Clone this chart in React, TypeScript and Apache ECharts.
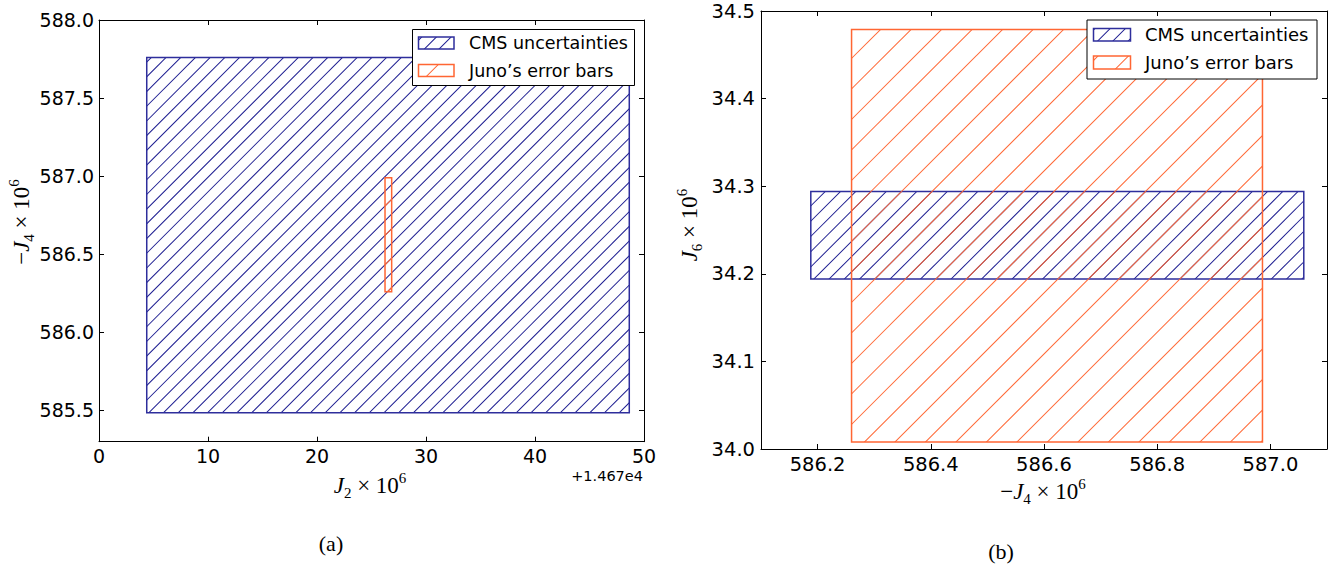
import React, { useEffect, useRef } from 'react';
import * as echarts from 'echarts';

const seriesNames = ['CMS uncertainties', 'Juno’s error bars'];
// each box: [xMin, xMax, yMin, yMax]
const panelACms = [4.38, 48.65, 585.485, 587.76];
const panelAJuno = [26.24, 26.85, 586.26, 586.99];
const panelBCms = [586.188, 587.059, 34.194, 34.294];
const panelBJuno = [586.26, 586.986, 34.008, 34.479];

const panelAXRange = [0, 50];
const panelAYRange = [585.3, 588.0];
const panelBXRange = [586.1, 587.1];
const panelBYRange = [34.0, 34.5];
const panelAXTicks = [0, 10, 20, 30, 40, 50];
const panelAYTicks = [585.5, 586.0, 586.5, 587.0, 587.5, 588.0];
const panelBXTicks = [586.2, 586.4, 586.6, 586.8, 587.0];
const panelBYTicks = [34.0, 34.1, 34.2, 34.3, 34.4, 34.5];
const panelAOffsetText = '+1.467e4';
const captions = ['(a)', '(b)'];

const BLUE_EDGE = '#2e2e9c';
const BLUE_HATCH = '#1c1c90';
const ORANGE = '#ff6633';
const SERIF = 'Liberation Serif';
const SANS = 'DejaVu Sans';
const HALF = 0.7;

function clipDiag(L: number, T: number, R: number, B: number, c: number) {
  const xa = Math.max(L, c - B);
  const xb = Math.min(R, c - T);
  return xb > xa ? [xa, c - xa, xb, c - xb] : null;
}

// thin filled bands along x + y = c, clipped to the box
function hatchBands(L: number, T: number, R: number, B: number, s: number, phase: number) {
  const bands: number[][][] = [];
  const k = Math.ceil((L + T - phase) / s);
  for (let i = k; i * s + phase <= R + B; i++) {
    const c = i * s + phase;
    const a = clipDiag(L, T, R, B, c - HALF);
    const b = clipDiag(L, T, R, B, c + HALF);
    if (!a || !b) continue;
    bands.push([[a[0], a[1]], [a[2], a[3]], [b[2], b[3]], [b[0], b[1]]]);
  }
  return bands;
}

function hatchedRectElements(L: number, T: number, R: number, B: number, edge: string, hatch: string, s: number, phase: number, z?: number) {
  const els: any[] = hatchBands(L, T, R, B, s, phase).map((pts) => ({
    type: 'polygon',
    z,
    shape: { points: pts },
    style: { fill: hatch, stroke: null, lineWidth: 0 },
  }));
  els.push({
    type: 'rect',
    z,
    shape: { x: L, y: T, width: R - L, height: B - T },
    style: { fill: 'none', stroke: edge, lineWidth: 1.5 },
  });
  return els;
}

function makeAxis(gridIndex: number, position: string, range: number[], ticks: number[], decimals: number, showLabel: boolean, fontSize: number, margin: number) {
  return {
    type: 'value',
    gridIndex,
    position,
    min: range[0],
    max: range[1],
    axisLine: { show: true, onZero: false, lineStyle: { color: '#000', width: 1 } },
    axisTick: { show: true, inside: true, length: 5, customValues: ticks, lineStyle: { color: '#000', width: 1 } },
    axisLabel: {
      show: showLabel,
      customValues: ticks,
      formatter: (v: number) => Number(v).toFixed(decimals),
      fontFamily: SANS,
      fontSize,
      color: '#000',
      margin,
    },
    splitLine: { show: false },
  };
}

function rectSeries(name: string, box: number[], xi: number, yi: number, edge: string, hatch: string, s: number, phase: number) {
  return {
    type: 'custom',
    name,
    xAxisIndex: xi,
    yAxisIndex: yi,
    clip: false,
    encode: { x: [0, 1], y: [2, 3] },
    data: [box],
    renderItem: (params: any, api: any) => {
      const p0 = api.coord([api.value(0), api.value(3)]);
      const p1 = api.coord([api.value(1), api.value(2)]);
      return {
        type: 'group',
        children: hatchedRectElements(p0[0], p0[1], p1[0], p1[1], edge, hatch, s, phase),
      };
    },
  };
}

function legendElements(box: number[], patchX: number, patchW: number, rows: number[][], textX: number, fontSize: number, hatchCfg: number[][]) {
  const els: any[] = [
    {
      type: 'rect',
      z: 100,
      shape: { x: box[0], y: box[1], width: box[2], height: box[3] },
      style: { fill: '#fff', stroke: '#000', lineWidth: 1 },
    },
  ];
  const edges = [BLUE_EDGE, ORANGE];
  const hatches = [BLUE_HATCH, ORANGE];
  rows.forEach((r, i) => {
    els.push(...hatchedRectElements(patchX, r[0], patchX + patchW, r[1], edges[i], hatches[i], hatchCfg[i][0], hatchCfg[i][1], 101));
    els.push({
      type: 'text',
      z: 101,
      x: textX,
      y: (r[0] + r[1]) / 2,
      style: { text: seriesNames[i], fontFamily: SANS, fontSize, fill: '#000', align: 'left', verticalAlign: 'middle' },
    });
  });
  return els;
}

const richMath = {
  i: { fontFamily: SERIF, fontStyle: 'italic', fontSize: 23, lineHeight: 30, fill: '#000' },
  n: { fontFamily: SERIF, fontSize: 23, lineHeight: 30, fill: '#000' },
  s: { fontFamily: SERIF, fontSize: 15, lineHeight: 15, verticalAlign: 'bottom', fill: '#000' },
  p: { fontFamily: SERIF, fontSize: 15, lineHeight: 15, verticalAlign: 'top', fill: '#000' },
};

function mathText(x: number, y: number, text: string, rotation = 0) {
  return {
    type: 'text',
    x,
    y,
    rotation,
    style: { text, rich: richMath, fill: '#000', align: 'center', verticalAlign: 'middle' },
  };
}

export default function App() {
  const ref = useRef<HTMLDivElement>(null);
  useEffect(() => {
    if (!ref.current) return;
    const chart = echarts.init(ref.current, null, { renderer: 'svg' });
    const hatchA = [[14.7, 3], [29.4, 3]];
    const hatchB = [[15.25, 10.2], [30.5, 25.45]];
    const option: any = {
      animation: false,
      backgroundColor: '#fff',
      grid: [
        { left: 99, top: 20, width: 545, height: 421.7, outerBoundsMode: 'none' },
        { left: 761, top: 11, width: 566, height: 438, outerBoundsMode: 'none' },
      ],
      xAxis: [
        makeAxis(0, 'bottom', panelAXRange, panelAXTicks, 0, true, 19, 5),
        makeAxis(0, 'top', panelAXRange, panelAXTicks, 0, false, 19, 5),
        makeAxis(1, 'bottom', panelBXRange, panelBXTicks, 1, true, 19.5, 5),
        makeAxis(1, 'top', panelBXRange, panelBXTicks, 1, false, 19.5, 5),
      ],
      yAxis: [
        makeAxis(0, 'left', panelAYRange, panelAYTicks, 1, true, 19, 5),
        makeAxis(0, 'right', panelAYRange, panelAYTicks, 1, false, 19, 5),
        makeAxis(1, 'left', panelBYRange, panelBYTicks, 1, true, 19.5, 6),
        makeAxis(1, 'right', panelBYRange, panelBYTicks, 1, false, 19.5, 6),
      ],
      series: [
        rectSeries(seriesNames[0], panelACms, 0, 0, BLUE_EDGE, BLUE_HATCH, hatchA[0][0], hatchA[0][1]),
        rectSeries(seriesNames[1], panelAJuno, 0, 0, ORANGE, ORANGE, hatchA[1][0], hatchA[1][1]),
        rectSeries(seriesNames[0], panelBCms, 2, 2, BLUE_EDGE, BLUE_HATCH, hatchB[0][0], hatchB[0][1]),
        rectSeries(seriesNames[1], panelBJuno, 2, 2, ORANGE, ORANGE, hatchB[1][0], hatchB[1][1]),
      ],
      graphic: [
        ...legendElements([412.5, 29.5, 222, 56], 418.5, 35.5, [[37, 49], [64.5, 76.5]], 469, 17.5, hatchA),
        ...legendElements([1087, 20, 230, 59], 1093.5, 37, [[28.5, 41], [56, 69]], 1145, 18, hatchB),
        mathText(370, 485, '{i|J}{s|2}{n| × 10}{p|6}'),
        mathText(21, 222, '{n|−}{i|J}{s|4}{n| × 10}{p|6}', Math.PI / 2),
        mathText(1043, 491, '{n|−}{i|J}{s|4}{n| × 10}{p|6}'),
        mathText(689, 225, '{i|J}{s|6}{n| × 10}{p|6}', Math.PI / 2),
        {
          type: 'text',
          x: 643,
          y: 476,
          style: { text: panelAOffsetText, fontFamily: SANS, fontSize: 14.5, fill: '#000', align: 'right', verticalAlign: 'middle' },
        },
        {
          type: 'text',
          x: 331,
          y: 543,
          style: { text: captions[0], fontFamily: SERIF, fontSize: 22, fill: '#000', align: 'center', verticalAlign: 'middle' },
        },
        {
          type: 'text',
          x: 1001,
          y: 551,
          style: { text: captions[1], fontFamily: SERIF, fontSize: 22, fill: '#000', align: 'center', verticalAlign: 'middle' },
        },
      ],
    };
    chart.setOption(option);
    return () => chart.dispose();
  }, []);
  return <div ref={ref} style={{ position: 'absolute', left: 0, top: 0, width: 1337, height: 569 }} />;
}
